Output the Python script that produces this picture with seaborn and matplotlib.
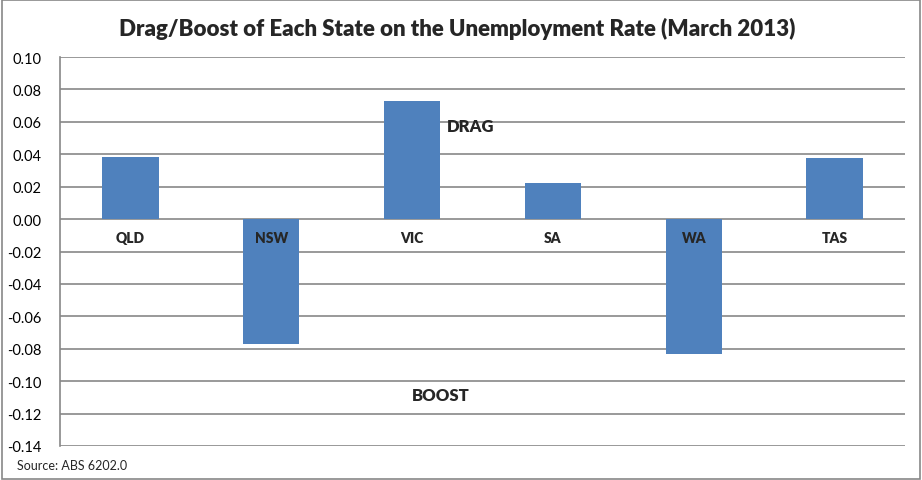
import numpy as np
import pandas as pd
import matplotlib
matplotlib.use("Agg")
import matplotlib.pyplot as plt
import seaborn as sns

# Data
states = ["QLD", "NSW", "VIC", "SA", "WA", "TAS"]
impact = [0.0383, -0.0772, 0.0728, 0.0222, -0.0833, 0.0377]
yticks = np.round(np.arange(-0.14, 0.1001, 0.02), 2)

sns.set_style("white")
plt.rcParams['font.family'] = ['Lato', 'DejaVu Sans']

df = pd.DataFrame({"state": states, "impact": impact})

fig = plt.figure(figsize=(9.22, 4.81), dpi=100)
ax = fig.add_axes([0.0651, 0.0707, 0.9165, 0.8087])

sns.barplot(data=df, x="state", y="impact", color="#4F81BD", width=0.4,
            saturation=1, linewidth=0, edgecolor="none", ax=ax, zorder=3)

ax.set_ylim(-0.14, 0.10)
ax.set_xlim(-0.5, len(states) - 0.5)
ax.set_yticks(yticks)
ax.set_yticklabels([f"{v:.2f}" for v in yticks], fontsize=10.5)
ax.set_xticks([])
ax.set_xlabel("")
ax.set_ylabel("")
ax.tick_params(axis="y", length=0, pad=13, labelcolor="black")
ax.grid(axis="y", color="#878787", linewidth=1.2, zorder=0)

for side in ["top", "right", "bottom"]:
    ax.spines[side].set_visible(False)
ax.spines["left"].set_color("#878787")
ax.spines["left"].set_linewidth(1.2)

# category labels sit just under the zero line
for i, s in enumerate(states):
    ax.text(i, -0.0075, s, ha="center", va="top", fontsize=10, fontweight="heavy")

ax.text(2.25, 0.0575, "DRAG", ha="left", va="center", fontsize=12, fontweight="heavy")
ax.text(2.2, -0.1085, "BOOST", ha="center", va="center", fontsize=12, fontweight="heavy")

fig.text(0.496, 0.94, "Drag/Boost of Each State on the Unemployment Rate (March 2013)",
         ha="center", va="center", fontsize=16, fontweight="heavy")
fig.text(0.018, 0.031, "Source: ABS 6202.0", ha="left", va="center", fontsize=9)

# grey frame round the whole chart
fig.patches.append(plt.Rectangle((0.002, 0.003), 0.996, 0.994, transform=fig.transFigure,
                                 fill=False, edgecolor="#878787", linewidth=1.2))

fig.savefig("out.png", dpi=100)
